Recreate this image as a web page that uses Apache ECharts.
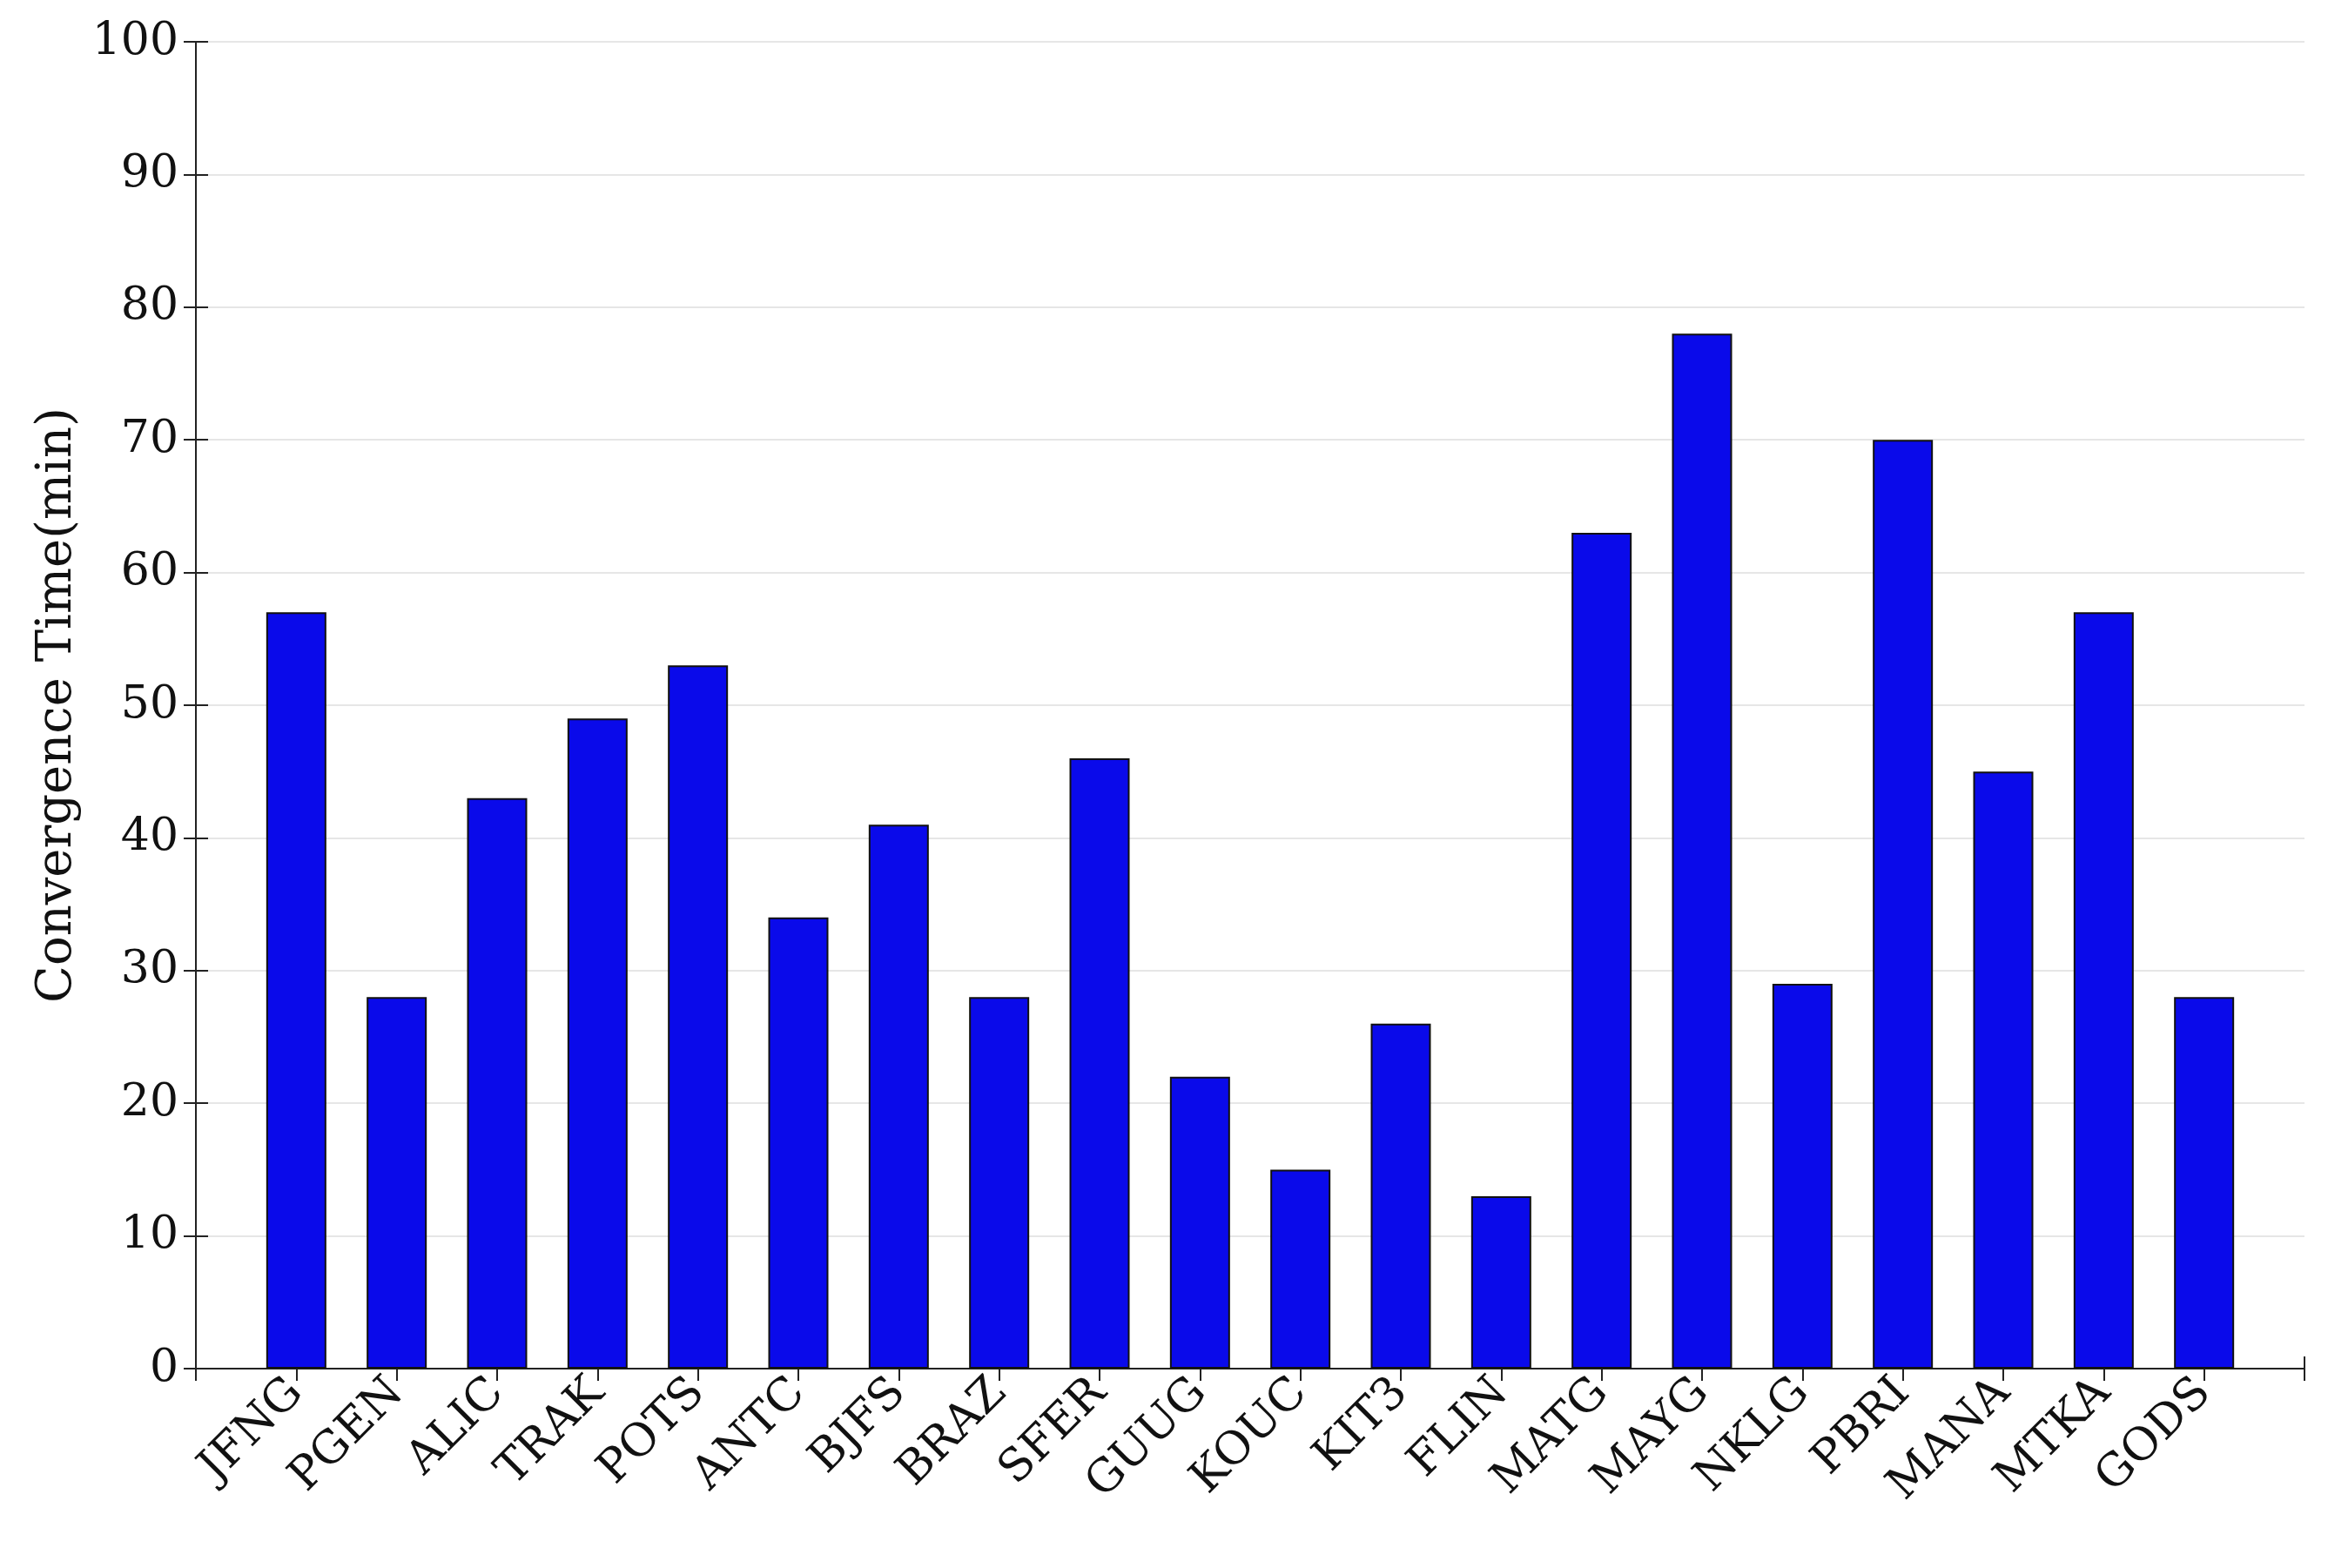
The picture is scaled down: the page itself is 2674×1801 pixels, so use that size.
<!DOCTYPE html>
<html>
<head>
<meta charset="utf-8" />
<script src="https://cdn.jsdelivr.net/npm/echarts@6/dist/echarts.min.js"></script>
<style>
html, body { margin: 0; padding: 0; background: #fff; }
#chart { width: 2674px; height: 1801px; }
</style>
</head>
<body>
<div id="chart"></div>
<script>
const stations = ['JFNG', 'PGEN', 'ALIC', 'TRAK', 'POTS', 'ANTC', 'BJFS', 'BRAZ', 'SFER', 'GUUG',
	'KOUC', 'KIT3', 'FLIN', 'MATG', 'MAYG', 'NKLG', 'PBRI', 'MANA', 'MTKA', 'GODS'];
const convTime = [57, 28, 43, 49, 53, 34, 41, 28, 46, 22, 15, 26, 13, 63, 78, 29, 70, 45, 57, 28];

const font = 'Palatino Linotype, "DejaVu Serif", "Liberation Serif", serif';
const chart = echarts.init(document.getElementById('chart'));

// stations sit at 1..20 on a 0..21 axis, like the original plot
function xAxis(top) {
	return {
		type: 'value',
		min: 0, max: stations.length + 1, interval: 1,
		position: top ? 'top' : 'bottom',
		splitLine: { show: false },
		axisLine: { show: true, lineStyle: { color: '#222', width: 2 } },
		axisTick: { show: true, inside: true, length: 14, lineStyle: { color: '#222', width: 2 } },
		axisLabel: top ? { show: false } : {
			rotate: 45, fontFamily: font, fontSize: 52, color: '#111', margin: 20,
			formatter: function (v) { return stations[v - 1] || ''; }
		}
	};
}
function yAxis(right) {
	return {
		type: 'value',
		min: 0, max: 100, interval: 10,
		position: right ? 'right' : 'left',
		name: right ? '' : 'Convergence Time(min)',
		nameLocation: 'middle',
		nameGap: 130,
		nameTextStyle: { fontFamily: font, fontSize: 56, color: '#111' },
		axisLine: { show: true, lineStyle: { color: '#222', width: 2 } },
		axisTick: { show: true, inside: true, length: 14, lineStyle: { color: '#222', width: 2 } },
		splitLine: { show: !right, lineStyle: { color: '#e6e6e6', width: 2 } },
		axisLabel: right ? { show: false } : { fontFamily: font, fontSize: 52, color: '#111', margin: 20 }
	};
}

chart.setOption({
	animation: false,
	grid: { left: 225, right: 27, top: 48, bottom: 229 },
	xAxis: [xAxis(false), xAxis(true)],
	yAxis: [yAxis(false), yAxis(true)],
	series: [{
		type: 'bar',
		data: convTime.map(function (v, i) { return [i + 1, v]; }),
		barWidth: 69,
		itemStyle: { color: '#0a0aea', borderColor: '#111', borderWidth: 2 }
	}]
});
</script>
</body>
</html>
